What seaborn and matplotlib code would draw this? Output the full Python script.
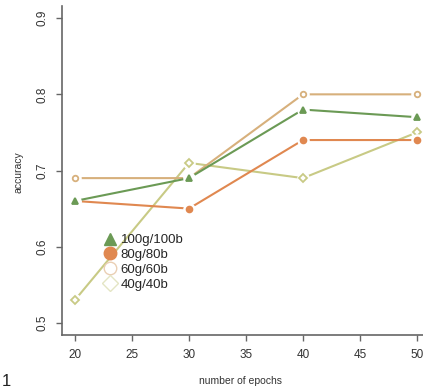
import matplotlib
matplotlib.use("Agg")
import matplotlib.pyplot as plt
import seaborn as sns
import pandas as pd
from matplotlib.lines import Line2D

epochs = [20, 30, 40, 50]
series_names = ["100g/100b", "80g/80b", "60g/60b", "40g/40b"]
acc_100 = [0.66, 0.69, 0.78, 0.77]
acc_80 = [0.66, 0.65, 0.74, 0.74]
acc_60 = [0.69, 0.69, 0.80, 0.80]
acc_40 = [0.53, 0.71, 0.69, 0.75]
x_ticks = [20, 25, 30, 35, 40, 45, 50]
y_ticks = [0.5, 0.6, 0.7, 0.8, 0.9]

colors = {"100g/100b": "#6b9a55", "80g/80b": "#e08850",
          "60g/60b": "#d7b07c", "40g/40b": "#c8ca85"}
markers = {"100g/100b": "^", "80g/80b": "o", "60g/60b": "o", "40g/40b": "D"}
filled = {"100g/100b": True, "80g/80b": True, "60g/60b": False, "40g/40b": False}
msizes = {"100g/100b": 4.5, "80g/80b": 4.2, "60g/60b": 4.0, "40g/40b": 3.6}

df = pd.DataFrame({
    "epochs": epochs * 4,
    "accuracy": acc_100 + acc_80 + acc_60 + acc_40,
    "series": sum([[n] * len(epochs) for n in series_names], []),
})

sns.set_style("white")
plt.rcParams["font.family"] = ["Liberation Sans", "DejaVu Sans"]

fig = plt.figure(figsize=(4.23, 3.92), dpi=100)
ax = fig.add_axes([62 / 423, 1 - 335 / 392, 361 / 423, 329 / 392])

draw_order = ["40g/40b", "60g/60b", "80g/80b", "100g/100b"]
for i, name in enumerate(draw_order):
    sub = df[df["series"] == name]
    z = 2 + i * 3
    sns.lineplot(data=sub, x="epochs", y="accuracy", ax=ax, color=colors[name],
                 linewidth=1.5, zorder=z, legend=False)
    ax.plot(sub["epochs"], sub["accuracy"], linestyle="none", marker="o",
            markersize=8, markerfacecolor="white", markeredgecolor="white", zorder=z + 1)
    ax.plot(sub["epochs"], sub["accuracy"], linestyle="none", marker=markers[name],
            markersize=msizes[name],
            markerfacecolor=colors[name] if filled[name] else "white",
            markeredgecolor=colors[name], markeredgewidth=1.3, zorder=z + 2)

ax.set_xlim(18.86, 50.53)
ax.set_ylim(0.484, 0.916)
ax.set_xticks(x_ticks)
ax.set_yticks(y_ticks)
ax.set_xticklabels([str(t) for t in x_ticks])
ax.set_yticklabels([f"{t:.1f}" for t in y_ticks], rotation=90, va="center")
ax.tick_params(axis="both", direction="out", length=4, width=1, color="#666666",
               labelsize=8.5, labelcolor="#333333", pad=6, bottom=True, left=True)

for s in ["top", "right"]:
    ax.spines[s].set_visible(False)
for s in ["left", "bottom"]:
    ax.spines[s].set_color("#666666")
    ax.spines[s].set_linewidth(1.2)

ax.set_xlabel("")
ax.set_ylabel("")
fig.text(18 / 423, 1 - 172 / 392, "accuracy", rotation=90, ha="center", va="center",
         fontsize=7.5, color="#333333")
fig.text(240 / 423, 1 - 381 / 392, "number of epochs", ha="center", va="center",
         fontsize=7.5, color="#333333")
fig.text(2 / 423, 1 - 381 / 392, "1", ha="left", va="center", fontsize=12, color="#222222")

leg_colors = {"100g/100b": "#6b9a55", "80g/80b": "#e08850",
              "60g/60b": "#eacfb4", "40g/40b": "#e4e5c4"}
handles = [Line2D([], [], linestyle="none", marker=markers[n],
                  markersize=9 if n != "40g/40b" else 8,
                  markerfacecolor=leg_colors[n] if filled[n] else "white",
                  markeredgecolor=leg_colors[n], markeredgewidth=1.0) for n in series_names]
fig.legend(handles, series_names, loc="upper left",
           bbox_to_anchor=(101 / 423, 1 - 234 / 392),
           frameon=False, fontsize=9.5, handletextpad=0.1, labelspacing=0.2,
           borderaxespad=0, borderpad=0, handlelength=1.4)

fig.savefig("out.png", dpi=100)
